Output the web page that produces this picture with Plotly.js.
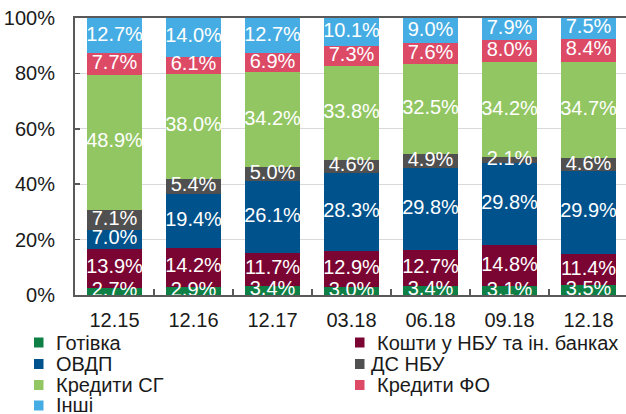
<!DOCTYPE html>
<html><head><meta charset="utf-8">
<script src="https://cdn.plot.ly/plotly-3.0.1.min.js"></script>
<style>html,body{margin:0;padding:0;overflow:hidden;background:#fff}#chart{width:630px;height:414px}</style>
</head><body><div id="chart"></div>
<script>
const categories = ['12.15','12.16','12.17','03.18','06.18','09.18','12.18'];
const seriesNames = ['Готівка','Кошти у НБУ та ін. банках','ОВДП','ДС НБУ','Кредити СГ','Кредити ФО','Інші'];
const gotivka   = [2.7, 2.9, 3.4, 3.0, 3.4, 3.1, 3.5];
const koshty    = [13.9, 14.2, 11.7, 12.9, 12.7, 14.8, 11.4];
const ovdp      = [7.0, 19.4, 26.1, 28.3, 29.8, 29.8, 29.9];
const dsNbu     = [7.1, 5.4, 5.0, 4.6, 4.9, 2.1, 4.6];
const kredytySG = [48.9, 38.0, 34.2, 33.8, 32.5, 34.2, 34.7];
const kredytyFO = [7.7, 6.1, 6.9, 7.3, 7.6, 8.0, 8.4];
const inshi     = [12.7, 14.0, 12.7, 10.1, 9.0, 7.9, 7.5];
const yTicks = [0, 20, 40, 60, 80, 100];

const seriesValues = [gotivka, koshty, ovdp, dsNbu, kredytySG, kredytyFO, inshi];
const colors = ['#0E7F45','#7B0532','#00528C','#505050','#92C663','#DC4A66','#45ADE3'];
const FONT = 'Liberation Sans, Arial, sans-serif';

const W = 630, H = 414, L = 75, R = 2, T = 18, B = 119;
const pw = W - L - R, ph = H - T - B;
const px2x = p => (p - L) / pw;
const py2y = p => (H - B - p) / ph;

const traces = [];
seriesValues.forEach((vals, i) => {
  traces.push({
    type: 'bar', x: categories, y: vals, name: seriesNames[i],
    marker: {color: colors[i]}, hoverinfo: 'none', showlegend: false
  });
});
// labels on top of all bars, centred in each segment
const cum = categories.map(() => 0);
seriesValues.forEach((vals, i) => {
  const ys = vals.map((v, j) => cum[j] + v / 2);
  vals.forEach((v, j) => { cum[j] += v; });
  traces.push({
    type: 'scatter', mode: 'text', x: categories, y: ys,
    text: vals.map(v => v.toFixed(1) + '%'),
    textposition: 'middle center',
    textfont: {family: FONT, size: 20, color: '#ffffff'},
    cliponaxis: true, hoverinfo: 'none', showlegend: false
  });
});

// manual legend (two columns)
const legPos = [
  {tx: 54, mx: 34, row: 0}, {tx: 375, mx: 355, row: 0},
  {tx: 54, mx: 34, row: 1}, {tx: 369, mx: 355, row: 1},
  {tx: 54, mx: 34, row: 2}, {tx: 375, mx: 355, row: 2},
  {tx: 54, mx: 34, row: 3}
];
const rowY = [342.5, 364, 385, 405.5];
const annotations = [], shapes = [];
seriesNames.forEach((n, i) => {
  const p = legPos[i], cy = rowY[p.row];
  annotations.push({
    xref: 'paper', yref: 'paper', x: px2x(p.tx), y: py2y(cy),
    xanchor: 'left', yanchor: 'middle', text: n, showarrow: false,
    font: {family: FONT, size: 20, color: '#1a1a1a'}
  });
  shapes.push({
    type: 'rect', xref: 'paper', yref: 'paper',
    x0: px2x(p.mx), x1: px2x(p.mx + 9.5), y0: py2y(cy + 5), y1: py2y(cy - 5),
    fillcolor: colors[i], line: {width: 0}
  });
});

const layout = {
  width: W, height: H,
  margin: {l: L, r: R, t: T, b: B},
  barmode: 'stack', bargap: 0.3,
  paper_bgcolor: '#ffffff', plot_bgcolor: '#ffffff',
  font: {family: FONT, size: 20, color: '#1a1a1a'},
  showlegend: false,
  xaxis: {
    type: 'category', range: [-0.5, 6.5], fixedrange: true,
    showline: true, linecolor: '#595959', linewidth: 2, mirror: true,
    ticks: 'inside', tickson: 'boundaries', ticklen: 6, tickwidth: 1.5, tickcolor: '#595959',
    showgrid: false, tickfont: {family: FONT, size: 20, color: '#1a1a1a'},
    ticklabelstandoff: 6
  },
  yaxis: {
    range: [0, 100], tickvals: yTicks, ticktext: yTicks.map(v => v + '%'),
    showgrid: true, gridcolor: '#D9D9D9', gridwidth: 1, zeroline: false,
    showline: true, linecolor: '#595959', linewidth: 2,
    ticks: 'inside', ticklen: 5, tickwidth: 1.5, tickcolor: '#595959',
    tickfont: {family: FONT, size: 20, color: '#1a1a1a'},
    ticklabelstandoff: 14
  },
  annotations: annotations, shapes: shapes
};
Plotly.newPlot('chart', traces, layout, {staticPlot: true, displayModeBar: false});
</script></body></html>
